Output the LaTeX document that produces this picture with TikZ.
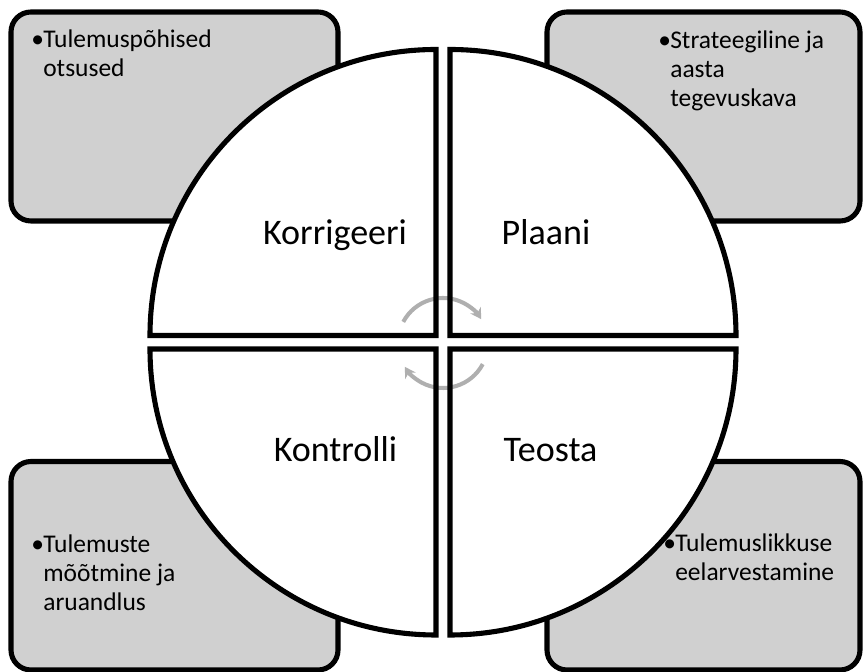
\documentclass[tikz,border=0pt]{standalone}
\usepackage{fontspec}
\setmainfont{Carlito}
\usetikzlibrary{arrows.meta}
\definecolor{boxgray}{RGB}{208,208,208}
\definecolor{cyclegray}{RGB}{175,175,175}
\begin{document}
\begin{tikzpicture}[
        x=0.02cm, y=0.02cm,
        infobox/.style={draw, fill=boxgray, line width=2.9pt, rounded corners=0.4cm},
        quarterfill/.style={fill=white},
        quarterline/.style={draw, line width=2.9pt},
        cyclearrow/.style={draw=cyclegray, line width=2.3pt, -{Stealth[length=6pt, width=7pt]}},
        phase/.style={anchor=base, inner sep=0pt, font=\fontsize{20.5}{24}\selectfont},
        note/.style={anchor=base west, inner sep=0pt, font=\fontsize{14.5}{16.5}\selectfont},
    ]
    \useasboundingbox (0,0) rectangle (863,672);
    % corner boxes
    \draw[infobox] (11,451) rectangle (338,660);
    \draw[infobox] (547,451) rectangle (860,660);
    \draw[infobox] (11,2) rectangle (338,210.5);
    \draw[infobox] (547,2) rectangle (860,210.5);
    % four quarters of the circle
    \foreach \cx/\cy/\a in {436/336.5/90, 450/336.5/0, 436/323/180, 450/323/270}
        \path[quarterfill] (\cx,\cy) -- ++(\a:286) arc[start angle=\a, end angle=\a+90, radius=286] -- cycle;
    \coordinate (hub) at (443,329);
    \draw[cyclearrow] (hub) ++(152:45) arc[start angle=152, end angle=32, radius=45];
    \draw[cyclearrow] (hub) ++(-28:45) arc[start angle=-28, end angle=-148, radius=45];
    \foreach \cx/\cy/\a in {436/336.5/90, 450/336.5/0, 436/323/180, 450/323/270}
        \path[quarterline] (\cx,\cy) -- ++(\a:286) arc[start angle=\a, end angle=\a+90, radius=286] -- cycle;
    % labels
    \node[phase] (korrigeeri) at (335,427) {Korrigeeri};
    \node[phase] (plaani) at (546,427) {Plaani};
    \node[phase] (kontrolli) at (335.5,210) {Kontrolli};
    \node[phase] (teosta) at (550.5,210) {Teosta};
    \node[note] (otsused) at (31,624) {\makebox[6.8pt][l]{\textbullet}\begin{tabular}[t]{@{}l@{}}Tulemuspõhised\\otsused\end{tabular}};
    \node[note] (tegevuskava) at (658,623) {\makebox[6.8pt][l]{\textbullet}\begin{tabular}[t]{@{}l@{}}Strateegiline ja\\aasta\\tegevuskava\end{tabular}};
    \node[note] (aruandlus) at (31,119) {\makebox[6.8pt][l]{\textbullet}\begin{tabular}[t]{@{}l@{}}Tulemuste\\mõõtmine ja\\aruandlus\end{tabular}};
    \node[note] (eelarve) at (663,120) {\makebox[6.8pt][l]{\textbullet}\begin{tabular}[t]{@{}l@{}}Tulemuslikkuse\\eelarvestamine\end{tabular}};
\end{tikzpicture}
\end{document}
